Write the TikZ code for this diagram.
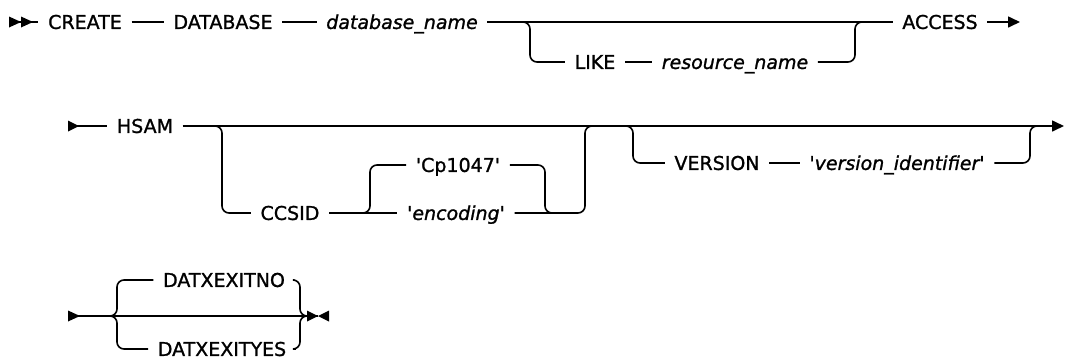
\documentclass[tikz,border=0pt]{standalone}
\usepackage{fontspec}
\setmainfont{DejaVu Sans}[FakeBold=1.2]
\usetikzlibrary{positioning, arrows.meta, calc}

\tikzset{
  kw/.style={inner xsep=9.5pt, inner ysep=0pt, text height=13.85pt, text depth=0pt, font=\fontsize{19}{19}\selectfont},
  var/.style={kw, font=\fontsize{19}{19}\selectfont\itshape},
  rail/.style={line width=1.6pt, rounded corners=7pt},
  headtip/.style={-{Triangle[length=12pt,width=11pt]}},
}

\begin{document}
\begin{tikzpicture}[x=1pt, y=-1pt]
  \useasboundingbox (0,0) rectangle (1065,362);
  % first line
  \coordinate (r1s) at (9,22);
  \node[kw] (create) at (85,22) {CREATE};
  \node[kw] (database) at (223,22) {DATABASE};
  \node[var] (dbname) at (402,22) {database\_name};
  \node[kw] (like) at (595,62) {LIKE};
  \node[var] (resname) at (735,62) {resource\_name};
  \node[kw] (access) at (940,22) {ACCESS};
  \coordinate (b1l) at (522,22);
  \coordinate (b1r) at (855,22);
  \coordinate (r1e) at (1020,22);
  \fill (9,16.5) -- (9,27.5) -- (21,22) -- cycle;
  \fill (21,16.5) -- (21,27.5) -- (33,22) -- cycle;
  \draw[rail] (r1s) -- (create);
  \draw[rail] (create) -- (database);
  \draw[rail] (database) -- (dbname);
  \draw[rail] (dbname) -- (access);
  \draw[rail] (b1l) -| ++(8,40) -- (like);
  \draw[rail] (like) -- (resname);
  \draw[rail] (resname) -| (b1r) -- ++(8,0);
  \draw[rail, headtip] (access) -- (r1e);
  % second line
  \coordinate (r2s) at (68,126);
  \node[kw] (hsam) at (145,126) {HSAM};
  \node[kw] (ccsid) at (290,213) {CCSID};
  \node[kw] (cp) at (458,165) {\textquotesingle Cp1047\textquotesingle};
  \node[var] (enc) at (456,213) {\textquotesingle encoding\textquotesingle};
  \node[kw] (version) at (717,163) {VERSION};
  \node[var] (verid) at (897,163) {\textquotesingle version\_identifier\textquotesingle};
  \coordinate (b2l) at (214,126);
  \coordinate (b2r) at (585,126);
  \coordinate (b3l) at (362,213);
  \coordinate (b3r) at (545,213);
  \coordinate (b4l) at (625,126);
  \coordinate (b4r) at (1030,126);
  \coordinate (r2e) at (1064,126);
  \fill (68,120.5) -- (68,131.5) -- (79,126) -- cycle;
  \draw[rail] (r2s) -- (hsam);
  \draw[rail, headtip] (hsam) -- (r2e);
  \draw[rail] (b2l) -| ++(8,87) -- (ccsid);
  \draw[rail] (ccsid) -- (enc);
  \draw[rail] (b3l) -| ++(8,-48) -- (cp);
  \draw[rail] (cp) -| (b3r) -- ++(8,0);
  \draw[rail] (enc) -| (b2r) -- ++(8,0);
  \draw[rail] (b4l) -| ++(8,37) -- (version);
  \draw[rail] (version) -- (verid);
  \draw[rail] (verid) -| (b4r) -- ++(8,0);
  % third line
  \coordinate (r3s) at (68,316);
  \node[kw] (exitno) at (224,280) {DATXEXITNO};
  \node[kw] (exityes) at (222,349) {DATXEXITYES};
  \coordinate (b5l) at (109,316);
  \coordinate (b5r) at (300,316);
  \coordinate (r3e) at (318,316);
  \fill (68,310.5) -- (68,321.5) -- (80,316) -- cycle;
  \draw[rail] (r3s) -- (r3e);
  \draw[rail] (b5l) -| ++(8,-36) -- (exitno);
  \draw[rail] (b5l) -| ++(8,33) -- (exityes);
  \draw[rail] (exitno) -| (b5r) -- ++(8,0);
  \draw[rail] (exityes) -| (b5r) -- ++(8,0);
  \fill (307,310.5) -- (307,321.5) -- (318,316) -- cycle;
  \fill (329,310.5) -- (329,321.5) -- (318,316) -- cycle;
\end{tikzpicture}
\end{document}
